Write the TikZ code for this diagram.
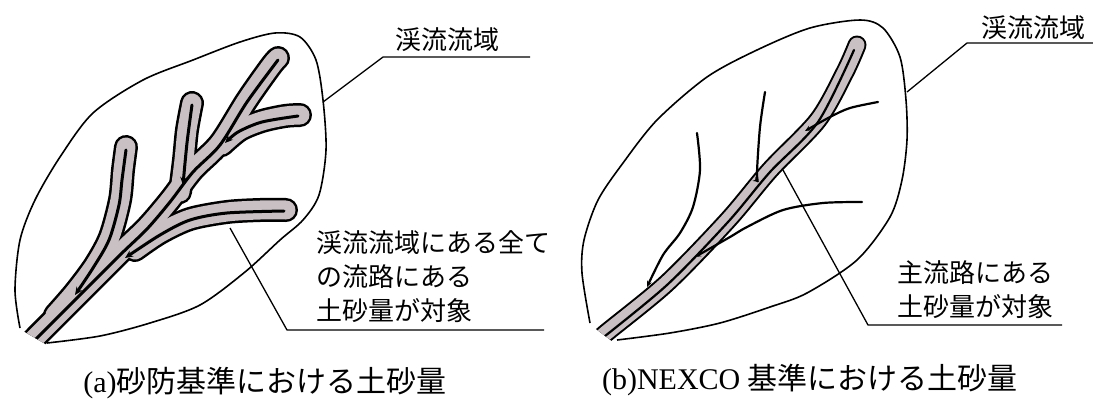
\documentclass[tikz,border=0pt]{standalone}
\usepackage{fontspec}
\setmainfont{Liberation Serif}
\newfontfamily\jpgothic{Noto Sans CJK JP}
\usetikzlibrary{arrows.meta}

\definecolor{sediment}{RGB}{200,192,195}

\begin{document}
\begin{tikzpicture}[x=1pt,y=-1pt,
	outline/.style={line width=1.6pt,line join=round},
	leader/.style={line width=1.3pt},
	flow/.style={line width=3pt,line cap=round,-{Stealth[length=8pt,width=7pt]}},
	stream/.style={line width=2.2pt,line cap=round,-{Stealth[length=6pt,width=5pt]}},
	lbl/.style={font=\jpgothic\fontsize{26}{34}\selectfont,align=left,inner sep=0},
	capt/.style={font=\fontsize{30}{32}\selectfont,inner sep=0}]
\useasboundingbox (0,0) rectangle (1093,418);

% (a) all channels carry sediment
\begin{scope}
\clip (0,0) -- (560,0) -- (560,418) -- (47,345) -- (18,328) -- (0,318) -- cycle;
\foreach \w/\c in {24/black,19/sediment}{
	\draw[line width=\w pt,\c,line cap=round,line join=round]
		plot[smooth] coordinates {(20,354) (33,340) (75,298) (120,253) (147,227) (170,200) (193,170) (220,143) (247,100) (271,66) (278,58)};
	\draw[line width=\w pt,\c,line cap=round,line join=round]
		plot[smooth] coordinates {(55,315) (75,292) (95,265) (110,237) (120,200) (123,170) (126,147)};
	\draw[line width=\w pt,\c,line cap=round,line join=round]
		plot[smooth] coordinates {(180,192) (184,160) (187,130) (192,103)};
	\draw[line width=\w pt,\c,line cap=round,line join=round]
		plot[smooth] coordinates {(222,145) (240,130) (262,121) (285,116) (300,115)};
	\draw[line width=\w pt,\c,line cap=round,line join=round]
		plot[smooth] coordinates {(135,250) (160,233) (190,219) (227,212) (260,210) (286,210)};
}
\draw[line width=3pt,line cap=round] plot[smooth] coordinates {(278,60) (247,102) (220,145) (193,172) (170,202) (147,229) (120,255) (75,300) (30,345)};
\end{scope}
\draw[flow] plot[smooth] coordinates {(126,150) (122,180) (119,205) (109,240) (93,268) (75,295)};
\draw[flow] plot[smooth] coordinates {(192,105) (187,143) (183,185)};
\draw[flow] plot[smooth] coordinates {(298,116) (262,122) (238,132) (225,143)};
\draw[flow] plot[smooth] coordinates {(284,211) (227,213) (190,220) (160,235) (125,258)};
\draw[outline] plot[smooth] coordinates {(20,328) (15,290) (20,240) (35,200) (60,157) (93,113) (143,80) (193,60) (240,42) (275,33) (300,37) (316,60) (323,100) (326,150) (319,195) (303,220) (280,240) (245,272) (200,305) (150,323) (100,336) (47,343)};

\node[lbl] (basinA) at (447,40) {渓流流域};
\coordinate (edgeA) at (323,102);
\coordinate (kneeA) at (383,57);
\coordinate (tailA) at (530,57);
\draw[leader] (edgeA) -- (kneeA) -- (tailA);
\node[lbl,anchor=west] (allA) at (316,277) {渓流流域にある全て\\の流路にある\\土砂量が対象};
\coordinate (branchA) at (230,228);
\coordinate (footA) at (287,330);
\coordinate (endA) at (544,330);
\draw[leader] (branchA) -- (footA) -- (endA);

% (b) main channel only
\begin{scope}
\clip (560,0) -- (1093,0) -- (1093,418) -- (617,345) -- (588,323) -- (560,300) -- cycle;
\draw[line width=19pt,line cap=round,line join=round]
	plot[smooth] coordinates {(592,346) (606,333) (667,283) (728,220) (770,170) (818,120) (845,72) (857,45)};
\draw[line width=15pt,line cap=round,line join=round,sediment]
	plot[smooth] coordinates {(592,346) (606,333) (667,283) (728,220) (770,170) (818,120) (845,72) (857,45)};
\draw[line width=2.2pt,line cap=round] plot[smooth] coordinates {(854,50) (818,122) (770,172) (728,222) (667,285) (600,340)};
\end{scope}
\draw[stream] plot[smooth] coordinates {(697,133) (700,170) (693,207) (680,233) (663,255) (647,287)};
\draw[stream] plot[smooth] coordinates {(765,92) (760,127) (757,173) (759,182)};
\draw[stream] plot[smooth] coordinates {(878,102) (850,108) (830,117) (805,131)};
\draw[stream] plot[smooth] coordinates {(862,202) (823,203) (783,210) (747,227) (730,237) (695,257)};
\draw[outline] plot[smooth] coordinates {(590,323) (582,273) (584,240) (598,200) (623,163) (657,120) (707,77) (757,50) (810,28) (860,20) (883,28) (900,57) (906,100) (907,140) (902,180) (890,217) (857,260) (807,293) (770,307) (720,323) (670,333) (617,340)};

\node[lbl] (basinB) at (1033,28) {渓流流域};
\coordinate (edgeB) at (907,92);
\coordinate (kneeB) at (967,43);
\coordinate (tailB) at (1093,43);
\draw[leader] (edgeB) -- (kneeB) -- (tailB);
\node[lbl,anchor=west] (mainB) at (897,290) {主流路にある\\土砂量が対象};
\coordinate (bankB) at (783,170);
\coordinate (footB) at (868,325);
\coordinate (endB) at (1062,325);
\draw[leader] (bankB) -- (footB) -- (endB);

\node[capt] (capA) at (265,383) {(a){\jpgothic 砂防基準における土砂量}};
\node[capt] (capB) at (810,380) {(b)NEXCO {\jpgothic 基準における土砂量}};
\end{tikzpicture}
\end{document}
